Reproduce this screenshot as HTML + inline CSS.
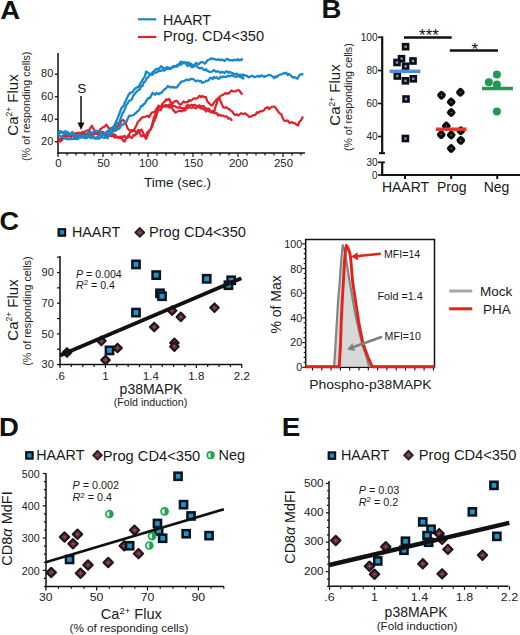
<!DOCTYPE html>
<html><head><meta charset="utf-8"><style>
html,body{margin:0;padding:0;background:#fff;}
body{width:520px;height:635px;overflow:hidden;}
svg{display:block;font-family:"Liberation Sans", sans-serif;}
</style></head><body>
<svg width="520" height="635" viewBox="0 0 520 635">
<rect width="520" height="635" fill="#fff"/>
<text x="0.2" y="18.9" font-size="25.3" text-anchor="start" font-weight="bold" font-style="normal" fill="#111"  textLength="19.91" lengthAdjust="spacingAndGlyphs">A</text>
<line x1="138.00" y1="19.30" x2="156.30" y2="19.30" stroke="#1a88c8" stroke-width="2.2" stroke-linecap="butt"/>
<line x1="138.00" y1="37.00" x2="156.30" y2="37.00" stroke="#e0222c" stroke-width="2.2" stroke-linecap="butt"/>
<text x="163" y="24.5" font-size="14.2" text-anchor="start" font-weight="normal" font-style="normal" fill="#1a1a1a" >HAART</text>
<text x="163" y="40.7" font-size="14.6" text-anchor="start" font-weight="normal" font-style="normal" fill="#1a1a1a" >Prog. CD4&lt;350</text>
<line x1="58.00" y1="53.00" x2="58.00" y2="153.50" stroke="#111" stroke-width="1.5" stroke-linecap="butt"/>
<line x1="57.30" y1="153.00" x2="305.00" y2="153.00" stroke="#111" stroke-width="1.5" stroke-linecap="butt"/>
<line x1="54.80" y1="74.25" x2="58.00" y2="74.25" stroke="#111" stroke-width="1.3" stroke-linecap="butt"/>
<text x="53.3" y="77.15" font-size="10" text-anchor="end" font-weight="normal" font-style="normal" fill="#222"  textLength="12.23" lengthAdjust="spacingAndGlyphs">80</text>
<line x1="54.80" y1="96.75" x2="58.00" y2="96.75" stroke="#111" stroke-width="1.3" stroke-linecap="butt"/>
<text x="53.3" y="99.65" font-size="10" text-anchor="end" font-weight="normal" font-style="normal" fill="#222"  textLength="12.23" lengthAdjust="spacingAndGlyphs">60</text>
<line x1="54.80" y1="119.25" x2="58.00" y2="119.25" stroke="#111" stroke-width="1.3" stroke-linecap="butt"/>
<text x="53.3" y="122.15" font-size="10" text-anchor="end" font-weight="normal" font-style="normal" fill="#222"  textLength="12.23" lengthAdjust="spacingAndGlyphs">40</text>
<line x1="54.80" y1="141.75" x2="58.00" y2="141.75" stroke="#111" stroke-width="1.3" stroke-linecap="butt"/>
<text x="53.3" y="144.65" font-size="10" text-anchor="end" font-weight="normal" font-style="normal" fill="#222"  textLength="12.23" lengthAdjust="spacingAndGlyphs">20</text>
<line x1="58.00" y1="153.00" x2="58.00" y2="157.00" stroke="#111" stroke-width="1.2" stroke-linecap="butt"/>
<line x1="67.00" y1="153.00" x2="67.00" y2="155.50" stroke="#111" stroke-width="1.2" stroke-linecap="butt"/>
<line x1="76.00" y1="153.00" x2="76.00" y2="155.50" stroke="#111" stroke-width="1.2" stroke-linecap="butt"/>
<line x1="85.00" y1="153.00" x2="85.00" y2="155.50" stroke="#111" stroke-width="1.2" stroke-linecap="butt"/>
<line x1="94.00" y1="153.00" x2="94.00" y2="155.50" stroke="#111" stroke-width="1.2" stroke-linecap="butt"/>
<line x1="103.00" y1="153.00" x2="103.00" y2="157.00" stroke="#111" stroke-width="1.2" stroke-linecap="butt"/>
<line x1="112.00" y1="153.00" x2="112.00" y2="155.50" stroke="#111" stroke-width="1.2" stroke-linecap="butt"/>
<line x1="121.00" y1="153.00" x2="121.00" y2="155.50" stroke="#111" stroke-width="1.2" stroke-linecap="butt"/>
<line x1="130.00" y1="153.00" x2="130.00" y2="155.50" stroke="#111" stroke-width="1.2" stroke-linecap="butt"/>
<line x1="139.00" y1="153.00" x2="139.00" y2="155.50" stroke="#111" stroke-width="1.2" stroke-linecap="butt"/>
<line x1="148.00" y1="153.00" x2="148.00" y2="157.00" stroke="#111" stroke-width="1.2" stroke-linecap="butt"/>
<line x1="157.00" y1="153.00" x2="157.00" y2="155.50" stroke="#111" stroke-width="1.2" stroke-linecap="butt"/>
<line x1="166.00" y1="153.00" x2="166.00" y2="155.50" stroke="#111" stroke-width="1.2" stroke-linecap="butt"/>
<line x1="175.00" y1="153.00" x2="175.00" y2="155.50" stroke="#111" stroke-width="1.2" stroke-linecap="butt"/>
<line x1="184.00" y1="153.00" x2="184.00" y2="155.50" stroke="#111" stroke-width="1.2" stroke-linecap="butt"/>
<line x1="193.00" y1="153.00" x2="193.00" y2="157.00" stroke="#111" stroke-width="1.2" stroke-linecap="butt"/>
<line x1="202.00" y1="153.00" x2="202.00" y2="155.50" stroke="#111" stroke-width="1.2" stroke-linecap="butt"/>
<line x1="211.00" y1="153.00" x2="211.00" y2="155.50" stroke="#111" stroke-width="1.2" stroke-linecap="butt"/>
<line x1="220.00" y1="153.00" x2="220.00" y2="155.50" stroke="#111" stroke-width="1.2" stroke-linecap="butt"/>
<line x1="229.00" y1="153.00" x2="229.00" y2="155.50" stroke="#111" stroke-width="1.2" stroke-linecap="butt"/>
<line x1="238.00" y1="153.00" x2="238.00" y2="157.00" stroke="#111" stroke-width="1.2" stroke-linecap="butt"/>
<line x1="247.00" y1="153.00" x2="247.00" y2="155.50" stroke="#111" stroke-width="1.2" stroke-linecap="butt"/>
<line x1="256.00" y1="153.00" x2="256.00" y2="155.50" stroke="#111" stroke-width="1.2" stroke-linecap="butt"/>
<line x1="265.00" y1="153.00" x2="265.00" y2="155.50" stroke="#111" stroke-width="1.2" stroke-linecap="butt"/>
<line x1="274.00" y1="153.00" x2="274.00" y2="155.50" stroke="#111" stroke-width="1.2" stroke-linecap="butt"/>
<line x1="283.00" y1="153.00" x2="283.00" y2="157.00" stroke="#111" stroke-width="1.2" stroke-linecap="butt"/>
<line x1="292.00" y1="153.00" x2="292.00" y2="155.50" stroke="#111" stroke-width="1.2" stroke-linecap="butt"/>
<line x1="301.00" y1="153.00" x2="301.00" y2="155.50" stroke="#111" stroke-width="1.2" stroke-linecap="butt"/>
<text x="58.5" y="167.3" font-size="10.2" text-anchor="middle" font-weight="normal" font-style="normal" fill="#222"  textLength="6.35" lengthAdjust="spacingAndGlyphs">0</text>
<text x="103.5" y="167.3" font-size="10.2" text-anchor="middle" font-weight="normal" font-style="normal" fill="#222"  textLength="12.71" lengthAdjust="spacingAndGlyphs">50</text>
<text x="148.5" y="167.3" font-size="10.2" text-anchor="middle" font-weight="normal" font-style="normal" fill="#222"  textLength="19.06" lengthAdjust="spacingAndGlyphs">100</text>
<text x="193.5" y="167.3" font-size="10.2" text-anchor="middle" font-weight="normal" font-style="normal" fill="#222"  textLength="19.06" lengthAdjust="spacingAndGlyphs">150</text>
<text x="238.5" y="167.3" font-size="10.2" text-anchor="middle" font-weight="normal" font-style="normal" fill="#222"  textLength="19.06" lengthAdjust="spacingAndGlyphs">200</text>
<text x="283.5" y="167.3" font-size="10.2" text-anchor="middle" font-weight="normal" font-style="normal" fill="#222"  textLength="19.06" lengthAdjust="spacingAndGlyphs">250</text>
<text x="144" y="186.8" font-size="13.5" text-anchor="start" font-weight="normal" font-style="normal" fill="#1a1a1a" >Time (sec.)</text>
<text transform="translate(17.8,105) rotate(-90)" font-size="15" text-anchor="middle" fill="#1a1a1a" font-weight="normal">Ca<tspan font-size="8.5" dy="-5.5">2+</tspan><tspan dy="5.5"> Flux</tspan></text>
<text transform="translate(29.6,106.3) rotate(-90)" font-size="10.75" text-anchor="middle" fill="#222" font-weight="normal">(% of responding cells)</text>
<text x="81.7" y="93.2" font-size="13.6" text-anchor="middle" font-weight="normal" font-style="normal" fill="#111" >S</text>
<line x1="81.00" y1="96.00" x2="81.00" y2="124.00" stroke="#111" stroke-width="1.5" stroke-linecap="butt"/>
<polygon points="77.5,122.5 84.5,122.5 81,130" fill="#111"/>
<polyline points="58.0,139.1 59.2,139.2 60.4,139.2 61.6,137.8 62.8,136.5 64.0,135.2 65.2,136.5 66.4,134.9 67.6,136.6 68.8,136.0 70.0,136.5 71.2,137.0 72.5,135.0 73.8,135.2 75.0,134.0 76.2,134.3 77.5,133.9 78.8,132.7 80.0,133.7 81.2,132.9 82.4,132.0 83.6,132.9 84.8,131.3 86.0,131.3 87.2,130.4 88.4,130.5 89.6,129.6 90.8,127.3 92.0,125.7 93.2,128.4 94.5,130.6 95.8,132.6 97.0,133.8 98.2,133.7 99.4,131.4 100.6,128.7 101.8,128.4 103.0,127.0 104.6,126.6 106.2,124.6 107.7,126.4 109.2,129.3 110.4,128.2 111.7,129.3 112.9,128.0 114.2,129.3 115.4,130.2 116.7,127.5 117.9,126.4 119.2,125.3 120.5,122.8 121.7,121.0 123.0,119.8 124.6,121.3 126.1,124.3 127.7,128.7 129.2,130.0 130.8,131.1 132.3,131.3 133.9,130.2 135.4,127.2 136.6,124.9 137.8,122.0 139.1,120.8 140.3,119.6 141.5,117.8 142.7,117.3 144.0,117.0 145.2,116.8 146.5,116.3 147.7,115.6 148.9,117.2 150.1,115.5 151.4,113.0 152.6,112.3 153.8,112.5 155.4,110.6 156.9,108.5 158.5,107.1 159.7,107.4 160.9,106.8 162.2,104.1 163.4,102.6 164.6,101.9 166.1,99.4 167.7,99.9 169.2,98.8 170.8,102.2 172.3,103.7 173.8,102.1 175.4,100.8 176.9,100.8 178.2,102.5 179.6,104.4 181.0,104.5 182.3,103.0 183.6,101.5 185.0,102.4 186.3,102.2 187.7,102.1 189.0,100.0 190.3,100.9 191.7,100.3 193.0,98.9 194.3,98.2 195.6,98.7 196.9,98.4 198.2,97.4 199.6,95.7 200.9,97.4 202.2,95.9 203.5,96.7 204.7,97.3 205.9,97.0 207.1,100.9 208.4,102.6 209.6,103.6 210.8,105.0 212.0,105.6 213.2,104.0 214.4,102.1 215.6,100.9 216.8,99.2 218.0,99.2 219.2,97.8 220.4,96.2 221.6,95.3 222.8,95.0 224.0,94.1 225.3,93.0 226.5,93.9 227.7,93.1 228.9,93.5 230.3,91.7 231.6,90.5 233.0,91.4 234.3,91.3 235.7,91.3 237.0,90.6 238.4,89.9 239.8,91.1 241.2,93.3 242.6,94.4" fill="none" stroke="#e0222c" stroke-width="2.2" stroke-linejoin="round"/>
<polyline points="58.0,142.0 59.3,141.5 60.7,141.3 62.0,140.0 63.3,138.2 64.7,136.2 66.0,135.4 67.3,136.6 68.6,135.0 69.9,134.6 71.1,136.2 72.4,134.5 73.7,133.2 75.0,134.5 76.2,132.9 77.5,133.2 78.8,132.7 80.0,133.4 81.2,134.4 82.5,133.1 83.8,134.4 85.0,134.3 86.2,135.4 87.5,133.4 88.8,133.2 90.0,132.3 91.2,133.7 92.5,134.0 93.8,133.8 95.0,133.9 96.2,132.4 97.5,134.1 98.8,134.0 100.0,135.0 101.2,134.4 102.5,134.0 103.8,134.3 105.0,135.9 106.2,134.5 107.4,135.1 108.7,134.1 109.9,133.5 111.1,133.9 112.3,135.2 113.8,136.7 115.4,137.7 116.9,136.7 118.5,137.9 120.0,136.5 121.5,138.5 123.1,140.5 124.6,141.6 125.8,138.7 127.1,137.8 128.3,135.1 129.6,133.6 130.8,130.9 132.0,130.0 133.2,130.8 134.5,130.8 135.7,131.9 136.9,134.1 138.4,132.1 140.0,131.0 141.5,129.4 143.1,132.7 144.6,136.6 146.2,138.9 147.7,134.8 149.3,130.7 150.8,128.5 152.3,123.6 153.8,117.9 155.4,113.8 156.9,108.9 158.5,105.6 159.7,106.4 160.9,107.0 162.2,107.3 163.4,105.4 164.6,105.8 165.8,106.8 167.1,105.7 168.3,106.9 169.6,107.7 170.8,106.2 172.0,108.0 173.2,110.1 174.5,111.4 175.7,112.6 176.9,111.9 178.2,111.1 179.6,110.8 181.0,111.0 182.3,111.4 183.6,109.6 185.0,110.5 186.3,109.0 187.7,107.8 189.0,107.4 190.3,105.0 191.7,104.8 193.0,105.4 194.3,104.7 195.6,105.2 196.9,106.1 198.2,105.8 199.6,105.2 200.9,106.4 202.2,106.4 203.5,105.8 204.8,107.7 206.1,108.2 207.4,108.9 208.8,108.7 210.1,110.4 211.4,112.7 212.7,110.6 214.0,112.7 215.4,107.1 216.9,102.9 218.3,97.7 219.6,98.8 220.8,101.8 222.1,104.7 223.3,107.2 224.6,107.8 225.8,107.4 227.0,107.6 228.2,108.7 229.4,109.1 230.6,110.7 231.8,110.8 233.0,112.6 234.3,114.7 235.7,115.0 237.0,114.2 238.3,115.6 239.7,114.5 241.0,113.2 242.3,113.6 243.7,114.0 245.0,113.3 246.3,114.1 247.7,115.4 249.0,116.9 250.3,116.6 251.6,116.5 252.9,115.2 254.1,115.1 255.4,114.9 256.7,112.4 258.0,112.9 259.2,112.0 260.4,111.2 261.6,111.4 262.9,110.9 264.1,110.2 265.3,108.2 266.5,108.0 267.7,107.0 269.1,109.3 270.4,107.8 271.8,106.8 273.1,106.7 274.4,106.5 275.8,108.0 277.2,110.2 278.5,112.0 279.9,113.5 281.3,114.4 282.6,117.9 284.0,120.4 285.3,121.1 286.7,120.4 288.0,120.7 289.3,122.8 290.7,122.6 292.0,122.0 293.2,123.2 294.4,122.9 295.6,123.9 296.8,125.0 298.0,125.5 299.5,121.6 301.0,120.3 303.0,116.5" fill="none" stroke="#e0222c" stroke-width="2.2" stroke-linejoin="round"/>
<polyline points="58.0,140.4 59.2,139.9 60.5,138.6 61.8,137.0 63.0,136.3 64.2,135.9 65.5,134.5 66.8,135.4 68.0,133.2 69.2,134.7 70.5,134.4 71.8,135.0 73.0,135.3 74.2,137.3 75.5,138.0 76.8,136.6 78.0,138.6 79.2,136.3 80.5,136.6 81.8,135.5 83.0,136.4 84.2,134.0 85.5,133.9 86.8,134.0 88.0,135.1 89.2,134.0 90.5,135.0 91.8,135.0 93.0,134.2 94.2,133.6 95.5,132.6 96.8,132.2 98.0,133.5 99.3,132.2 100.7,133.0 102.0,131.7 103.3,132.0 104.7,134.9 106.0,136.1 107.3,136.3 108.6,135.9 109.9,135.5 111.1,136.2 112.4,135.7 113.7,134.4 115.0,134.8 116.4,136.3 117.8,137.6 119.2,137.6 120.6,137.9 122.0,136.5 123.3,137.0 124.5,135.7 125.8,136.9 127.0,137.5 128.3,137.3 129.5,135.9 130.8,137.6 132.1,137.8 133.4,135.1 134.7,135.6 135.9,133.5 137.2,131.4 138.5,129.8 140.0,133.7 141.5,136.4 143.1,135.3 144.6,136.5 146.2,134.3 147.4,132.4 148.6,131.3 149.9,130.5 151.1,128.9 152.3,126.1 153.5,122.4 154.8,119.9 156.0,116.8 157.3,112.6 158.5,109.6 159.7,109.4 160.9,110.1 162.2,107.3 163.4,106.1 164.6,106.2 165.8,104.9 167.1,105.3 168.3,105.7 169.6,104.3 170.8,104.6 172.0,105.2 173.2,106.1 174.5,105.9 175.7,106.7 176.9,107.5 178.2,107.9 179.6,106.9 181.0,108.1 182.3,108.1 183.6,108.2 185.0,108.7 186.3,106.0 187.7,104.9 189.0,107.0 190.3,107.5 191.7,107.9 193.0,106.8 194.3,107.5 195.6,108.3 196.9,107.4 198.2,106.8 199.6,107.6 200.9,108.5 202.2,108.1 203.5,109.5 204.8,109.6 206.1,111.5 207.4,110.0 208.8,111.1 210.1,111.6 211.4,112.0 212.7,112.0 214.0,113.1 215.3,112.9 216.7,113.1 218.0,115.6 219.3,114.5 220.6,115.6 221.9,115.4 223.3,115.8 224.6,116.4 225.8,116.3 227.1,116.5 228.3,118.7 229.5,118.2 230.8,119.0 232.0,120.9" fill="none" stroke="#e0222c" stroke-width="2.2" stroke-linejoin="round"/>
<polyline points="58.0,132.2 59.6,131.1 61.2,131.3 62.8,133.4 64.4,131.4 66.0,131.4 67.6,132.9 69.2,135.2 70.8,133.7 72.4,131.9 74.0,134.1 75.6,136.4 77.2,136.4 78.8,134.1 80.4,136.3 82.0,135.7 83.6,137.7 85.2,138.0 86.8,138.0 88.4,136.3 90.0,137.7 91.6,136.3 93.2,135.9 94.8,137.6 96.4,138.0 98.0,136.4 99.6,135.0 101.2,134.5 102.8,134.6 104.4,134.0 106.0,132.1 107.6,130.9 108.5,133.8 109.8,130.1 111.2,128.5 112.5,127.5 113.9,126.1 115.2,123.9 116.5,120.7 117.9,117.6 119.2,114.2 120.6,110.3 121.9,107.3 123.2,106.6 124.6,103.2 125.9,100.6 127.3,97.6 128.6,94.6 130.0,93.1 131.3,92.3 132.7,92.3 134.0,89.6 135.4,88.3 136.7,87.5 138.1,87.4 139.4,85.5 140.8,82.6 142.1,80.9 143.4,78.2 144.8,76.8 146.1,71.6 147.4,72.3 148.8,73.5 150.2,73.8 151.5,74.3 152.9,71.7 154.2,71.1 155.6,69.1 156.9,69.0 158.3,69.4 159.7,67.9 161.0,66.3 162.3,67.0 163.7,68.4 165.0,68.7 166.3,67.4 167.7,67.2 169.0,67.7 170.4,68.9 171.7,68.0 173.0,66.3 174.3,66.1 175.7,66.4 177.0,66.6 178.3,65.4 179.7,63.2 181.0,61.6 182.3,62.2 183.6,63.4 185.0,62.1 186.3,63.1 187.7,62.7 189.0,62.7 190.3,63.4 191.7,64.3 193.0,65.8 194.3,65.1 195.6,63.4 196.9,63.1 198.2,64.6 199.6,63.3 200.9,62.2 202.2,62.2 203.5,62.6 204.8,63.7 206.1,62.4 207.4,60.4 208.8,59.8 210.1,59.3 211.4,58.1 212.7,59.2 214.0,58.7 215.3,59.3 216.7,59.8 218.0,59.5 219.3,59.3 220.6,60.4 221.9,59.5 223.3,60.3 224.6,61.1 225.8,59.6 227.0,58.8 228.2,59.5 229.4,60.4 230.6,60.1 231.8,60.1 233.0,60.7 234.2,59.7 235.4,60.2 236.6,60.3 237.8,59.1 239.0,60.4 240.2,59.7 241.4,60.1 242.6,58.5" fill="none" stroke="#1a88c8" stroke-width="2.3" stroke-linejoin="round"/>
<polyline points="58.0,133.7 59.6,135.7 61.2,136.4 62.8,137.4 64.4,138.2 66.0,139.0 67.6,138.8 69.2,139.0 70.8,139.0 72.4,139.0 74.0,138.7 75.6,139.0 77.2,139.0 78.8,138.0 80.4,136.6 82.0,137.2 83.6,135.1 85.2,137.2 86.8,135.4 88.4,133.0 90.0,131.0 91.6,133.2 93.2,132.4 94.8,131.0 96.4,131.0 98.0,131.0 99.6,132.0 101.2,132.6 102.8,133.6 104.4,134.8 106.0,132.6 107.6,133.1 109.2,132.4 110.8,134.0 111.5,134.8 112.9,131.2 114.3,130.6 115.7,126.2 117.1,123.1 118.5,123.5 119.8,121.0 121.1,117.7 122.4,113.4 123.7,111.7 125.0,108.6 126.4,104.9 127.8,103.3 129.2,100.7 130.6,100.3 132.0,98.9 133.3,95.4 134.6,94.4 135.9,92.6 137.2,90.8 138.5,90.2 139.8,89.3 141.1,85.9 142.4,86.2 143.7,82.5 145.0,81.7 146.5,78.8 148.0,77.3 149.5,75.3 150.8,73.8 152.2,74.7 153.5,73.5 154.8,72.3 156.0,72.8 157.2,72.1 158.5,71.1 159.8,71.1 161.0,70.9 162.3,69.6 163.7,70.6 165.0,70.1 166.3,68.5 167.7,68.9 169.0,69.2 170.4,68.0 171.7,67.5 173.0,67.6 174.3,65.9 175.7,66.6 177.0,64.9 178.3,65.4 179.7,64.0 181.0,64.9 182.3,62.5 183.6,62.7 184.8,63.3 186.1,63.5 187.4,66.1 188.7,65.4 189.9,64.1 191.2,66.8 192.5,67.1 193.7,66.6 195.0,65.4 196.2,65.7 197.4,67.1 198.6,67.8 199.9,68.4 201.1,67.8 202.3,68.3 203.5,69.6 204.8,70.2 206.1,69.3 207.4,70.9 208.8,71.4 210.1,72.1 211.4,71.8 212.7,71.2 214.0,70.0 215.3,71.6 216.7,71.4 218.0,71.5 219.3,71.8 220.6,73.0 221.9,71.7 223.3,72.4 224.6,73.1 225.9,71.3 227.2,71.3 228.6,72.9 229.9,72.0 231.2,72.7 232.5,73.0 233.9,73.9 235.2,74.1 236.6,73.7 238.1,74.6 239.6,75.0 241.0,74.7 242.2,75.2 243.4,74.5 244.6,75.6 245.8,75.3 247.0,75.8 248.4,77.3 249.9,76.8 251.3,76.0 252.8,76.0 254.2,77.2 255.5,76.8 256.7,76.4 258.0,75.7 259.2,76.9 260.5,75.8 261.7,75.4 263.0,76.3 264.2,76.9 265.5,76.1 266.8,75.8 268.0,75.3 269.2,74.8 270.5,75.3 271.8,76.0 273.0,76.7 274.3,78.1 275.7,76.2 277.0,77.1 278.3,75.6 279.7,74.8 281.0,74.3 282.3,74.2 283.7,73.0 285.0,73.5 286.3,72.8 287.7,75.0 289.0,74.0 290.4,75.1 291.8,76.4 293.1,77.7 294.5,77.0 295.9,77.9 297.3,78.6 298.6,76.7 300.0,74.5 301.8,74.1 303.5,74.5" fill="none" stroke="#1a88c8" stroke-width="2.3" stroke-linejoin="round"/>
<polyline points="58.0,134.3 59.6,132.6 61.2,132.5 62.8,132.5 64.4,132.7 66.0,134.5 67.6,132.1 69.2,133.8 70.8,133.6 72.4,133.9 74.0,134.7 75.6,136.4 77.2,135.8 78.8,135.4 80.4,137.7 82.0,135.6 83.6,136.3 85.2,137.0 86.8,134.6 88.4,135.1 90.0,136.1 91.6,138.2 93.2,137.4 94.8,138.5 96.4,138.5 98.0,138.4 99.6,138.5 101.2,136.2 102.8,137.3 104.4,137.9 106.0,137.1 107.6,138.5 109.0,133.6 110.4,133.4 111.7,131.4 113.1,130.8 114.4,130.7 115.8,130.7 117.1,129.2 118.5,129.0 119.8,128.0 121.1,125.7 122.3,124.6 123.6,124.4 124.9,122.1 126.2,122.4 127.7,118.7 129.3,115.6 130.8,115.9 132.1,115.5 133.4,115.2 134.7,113.9 135.9,113.0 137.2,111.4 138.5,110.7 139.8,108.9 141.1,105.9 142.3,106.2 143.6,104.1 144.9,103.6 146.2,101.0 147.5,99.3 148.7,97.8 150.0,98.0 151.3,95.3 152.5,92.9 153.8,94.0 155.1,94.8 156.4,92.8 157.7,93.8 158.9,94.3 160.2,92.9 161.5,93.0 162.8,90.8 164.1,89.8 165.3,89.0 166.6,87.8 167.9,85.9 169.2,86.9 170.5,87.5 171.8,86.8 173.1,87.6 174.3,87.0 175.6,87.7 176.9,87.4 178.2,85.4 179.6,83.8 181.0,82.0 182.3,81.3 183.6,81.3 185.0,80.5 186.3,79.6 187.7,80.0 189.0,80.0 190.3,79.2 191.7,78.9 193.0,79.2 194.3,79.7 195.6,81.4 196.9,80.8 198.2,80.5 199.6,81.4 200.9,80.9 202.2,82.9 203.5,82.3 204.8,82.0 206.1,80.8 207.4,80.8 208.8,80.2 210.1,78.0 211.4,78.0 212.7,79.0 214.0,77.0 215.3,78.1 216.7,77.3 218.0,78.6 219.3,78.6 220.6,76.6 221.9,77.4 223.3,76.3 224.6,76.8 225.9,77.2 227.2,76.1 228.6,75.9 229.9,76.4 231.2,75.4 232.5,75.5 233.9,76.4 235.2,76.6 236.4,76.8 237.6,75.8 238.8,76.4 240.1,76.9 241.3,77.6 242.5,77.0 243.7,79.6" fill="none" stroke="#1a88c8" stroke-width="2.3" stroke-linejoin="round"/>
<text x="321.6" y="17.8" font-size="25.3" text-anchor="start" font-weight="bold" font-style="normal" fill="#111"  textLength="19.91" lengthAdjust="spacingAndGlyphs">B</text>
<line x1="382.20" y1="36.30" x2="382.20" y2="153.20" stroke="#111" stroke-width="2.2" stroke-linecap="butt"/>
<line x1="382.20" y1="162.30" x2="382.20" y2="175.50" stroke="#111" stroke-width="2.2" stroke-linecap="butt"/>
<line x1="381.00" y1="175.00" x2="520.00" y2="175.00" stroke="#111" stroke-width="2" stroke-linecap="butt"/>
<line x1="379.00" y1="153.20" x2="385.00" y2="153.20" stroke="#111" stroke-width="2" stroke-linecap="butt"/>
<line x1="382.00" y1="162.30" x2="384.80" y2="162.30" stroke="#111" stroke-width="2" stroke-linecap="butt"/>
<line x1="378.00" y1="37.30" x2="382.00" y2="37.30" stroke="#111" stroke-width="1.6" stroke-linecap="butt"/>
<text x="377.5" y="40.9" font-size="10" text-anchor="end" font-weight="normal" font-style="normal" fill="#222" >100</text>
<line x1="378.00" y1="70.50" x2="382.00" y2="70.50" stroke="#111" stroke-width="1.6" stroke-linecap="butt"/>
<text x="377.5" y="74.1" font-size="10" text-anchor="end" font-weight="normal" font-style="normal" fill="#222" >80</text>
<line x1="378.00" y1="103.50" x2="382.00" y2="103.50" stroke="#111" stroke-width="1.6" stroke-linecap="butt"/>
<text x="377.5" y="107.1" font-size="10" text-anchor="end" font-weight="normal" font-style="normal" fill="#222" >60</text>
<line x1="378.00" y1="136.50" x2="382.00" y2="136.50" stroke="#111" stroke-width="1.6" stroke-linecap="butt"/>
<text x="377.5" y="140.1" font-size="10" text-anchor="end" font-weight="normal" font-style="normal" fill="#222" >40</text>
<line x1="378.00" y1="162.30" x2="382.00" y2="162.30" stroke="#111" stroke-width="1.6" stroke-linecap="butt"/>
<text x="377.5" y="165.9" font-size="10" text-anchor="end" font-weight="normal" font-style="normal" fill="#222" >30</text>
<line x1="378.00" y1="175.00" x2="382.00" y2="175.00" stroke="#111" stroke-width="1.6" stroke-linecap="butt"/>
<text x="377.5" y="178.6" font-size="10" text-anchor="end" font-weight="normal" font-style="normal" fill="#222" >0</text>
<line x1="405.00" y1="175.00" x2="405.00" y2="179.00" stroke="#111" stroke-width="2" stroke-linecap="butt"/>
<line x1="451.20" y1="175.00" x2="451.20" y2="179.00" stroke="#111" stroke-width="2" stroke-linecap="butt"/>
<line x1="497.20" y1="175.00" x2="497.20" y2="179.00" stroke="#111" stroke-width="2" stroke-linecap="butt"/>
<text x="405.5" y="192" font-size="14" text-anchor="middle" font-weight="normal" font-style="normal" fill="#1a1a1a" >HAART</text>
<text x="451.8" y="192" font-size="14" text-anchor="middle" font-weight="normal" font-style="normal" fill="#1a1a1a" >Prog</text>
<text x="496.5" y="192" font-size="14" text-anchor="middle" font-weight="normal" font-style="normal" fill="#1a1a1a" >Neg</text>
<text transform="translate(340,95) rotate(-90)" font-size="15" text-anchor="middle" fill="#1a1a1a" font-weight="normal">Ca<tspan font-size="8.5" dy="-5.5">2+</tspan><tspan dy="5.5"> Flux</tspan></text>
<text transform="translate(352.2,97.2) rotate(-90)" font-size="10.6" text-anchor="middle" fill="#222" font-weight="normal">(% of responding cells)</text>
<line x1="404.00" y1="37.50" x2="451.70" y2="37.50" stroke="#111" stroke-width="2.5" stroke-linecap="butt"/>
<text x="429" y="40.5" font-size="17" text-anchor="middle" font-weight="normal" font-style="normal" fill="#111" >***</text>
<line x1="449.80" y1="50.40" x2="498.00" y2="50.40" stroke="#111" stroke-width="2.5" stroke-linecap="butt"/>
<text x="474.8" y="55" font-size="17" text-anchor="middle" font-weight="normal" font-style="normal" fill="#111" >*</text>
<rect x="401.8" y="42.9" width="7.6" height="7.6" fill="#0b0d14"/>
<rect x="404.4" y="45.5" width="2.4" height="2.4" fill="#7f9cc6"/>
<rect x="397.7" y="54.9" width="7.6" height="7.6" fill="#0b0d14"/>
<rect x="400.3" y="57.5" width="2.4" height="2.4" fill="#7f9cc6"/>
<rect x="393.2" y="58.7" width="7.6" height="7.6" fill="#0b0d14"/>
<rect x="395.8" y="61.3" width="2.4" height="2.4" fill="#7f9cc6"/>
<rect x="409.2" y="57.2" width="7.6" height="7.6" fill="#0b0d14"/>
<rect x="411.8" y="59.8" width="2.4" height="2.4" fill="#7f9cc6"/>
<rect x="401.8" y="62.5" width="7.6" height="7.6" fill="#0b0d14"/>
<rect x="404.4" y="65.1" width="2.4" height="2.4" fill="#7f9cc6"/>
<rect x="393.5" y="72.2" width="7.6" height="7.6" fill="#0b0d14"/>
<rect x="396.1" y="74.8" width="2.4" height="2.4" fill="#7f9cc6"/>
<rect x="401.6" y="77.0" width="7.6" height="7.6" fill="#0b0d14"/>
<rect x="404.2" y="79.6" width="2.4" height="2.4" fill="#7f9cc6"/>
<rect x="409.5" y="75.0" width="7.6" height="7.6" fill="#0b0d14"/>
<rect x="412.1" y="77.6" width="2.4" height="2.4" fill="#7f9cc6"/>
<rect x="402.2" y="95.2" width="7.6" height="7.6" fill="#0b0d14"/>
<rect x="404.8" y="97.8" width="2.4" height="2.4" fill="#7f9cc6"/>
<rect x="401.6" y="134.7" width="7.6" height="7.6" fill="#0b0d14"/>
<rect x="404.2" y="137.3" width="2.4" height="2.4" fill="#7f9cc6"/>
<line x1="389.60" y1="71.30" x2="420.40" y2="71.30" stroke="#4a90d9" stroke-width="3.5" stroke-linecap="butt"/>
<rect x="437.7" y="91.4" width="7.6" height="7.6" rx="2.6" fill="#0b0808" transform="rotate(45 441.5 95.2)"/>
<circle cx="441.5" cy="95.2" r="0.8" fill="#9a6a6a"/>
<rect x="456.6" y="88.5" width="7.6" height="7.6" rx="2.6" fill="#0b0808" transform="rotate(45 460.4 92.3)"/>
<circle cx="460.4" cy="92.3" r="0.8" fill="#9a6a6a"/>
<rect x="447.4" y="98.2" width="7.6" height="7.6" rx="2.6" fill="#0b0808" transform="rotate(45 451.2 102)"/>
<circle cx="451.2" cy="102" r="0.8" fill="#9a6a6a"/>
<rect x="447.4" y="108.7" width="7.6" height="7.6" rx="2.6" fill="#0b0808" transform="rotate(45 451.2 112.5)"/>
<circle cx="451.2" cy="112.5" r="0.8" fill="#9a6a6a"/>
<rect x="442.5" y="122.2" width="7.6" height="7.6" rx="2.6" fill="#0b0808" transform="rotate(45 446.3 126)"/>
<circle cx="446.3" cy="126" r="0.8" fill="#9a6a6a"/>
<rect x="457.0" y="127.0" width="7.6" height="7.6" rx="2.6" fill="#0b0808" transform="rotate(45 460.8 130.8)"/>
<circle cx="460.8" cy="130.8" r="0.8" fill="#9a6a6a"/>
<rect x="437.4" y="130.8" width="7.6" height="7.6" rx="2.6" fill="#0b0808" transform="rotate(45 441.2 134.6)"/>
<circle cx="441.2" cy="134.6" r="0.8" fill="#9a6a6a"/>
<rect x="447.4" y="131.2" width="7.6" height="7.6" rx="2.6" fill="#0b0808" transform="rotate(45 451.2 135)"/>
<circle cx="451.2" cy="135" r="0.8" fill="#9a6a6a"/>
<rect x="457.0" y="136.6" width="7.6" height="7.6" rx="2.6" fill="#0b0808" transform="rotate(45 460.8 140.4)"/>
<circle cx="460.8" cy="140.4" r="0.8" fill="#9a6a6a"/>
<rect x="447.4" y="144.7" width="7.6" height="7.6" rx="2.6" fill="#0b0808" transform="rotate(45 451.2 148.5)"/>
<circle cx="451.2" cy="148.5" r="0.8" fill="#9a6a6a"/>
<line x1="435.80" y1="129.20" x2="466.50" y2="129.20" stroke="#e8342c" stroke-width="3.5" stroke-linecap="butt"/>
<circle cx="496.9" cy="74.6" r="4" fill="#1e9a52"/>
<circle cx="488.8" cy="82.3" r="4" fill="#1e9a52"/>
<circle cx="496.9" cy="84.6" r="4" fill="#1e9a52"/>
<circle cx="496.9" cy="111.5" r="4" fill="#1e9a52"/>
<line x1="482.00" y1="88.50" x2="512.90" y2="88.50" stroke="#1e9a52" stroke-width="3.5" stroke-linecap="butt"/>
<text x="-0.6" y="230.2" font-size="25.3" text-anchor="start" font-weight="bold" font-style="normal" fill="#111"  textLength="19.55" lengthAdjust="spacingAndGlyphs">C</text>
<rect x="57.5" y="228.1" width="8.7" height="8.7" fill="#111"/>
<rect x="59.8" y="230.3" width="4.2" height="4.2" fill="#1b8ccf"/>
<text x="72" y="237" font-size="14.3" text-anchor="start" font-weight="normal" font-style="normal" fill="#1a1a1a" >HAART</text>
<polygon points="139.8,227.70000000000002 144.5,232.4 139.8,237.1 135.10000000000002,232.4" fill="#6b3242" stroke="#1a1a1a" stroke-width="1.4" stroke-linejoin="round"/>
<circle cx="139.8" cy="232.4" r="1" fill="#a8506e"/>
<text x="149" y="237.3" font-size="14.6" text-anchor="start" font-weight="normal" font-style="normal" fill="#1a1a1a" >Prog CD4&lt;350</text>
<line x1="60.00" y1="256.00" x2="60.00" y2="365.30" stroke="#111" stroke-width="1.5" stroke-linecap="butt"/>
<line x1="59.30" y1="364.60" x2="242.00" y2="364.60" stroke="#111" stroke-width="1.5" stroke-linecap="butt"/>
<line x1="57.00" y1="257.15" x2="60.00" y2="257.15" stroke="#111" stroke-width="1.2" stroke-linecap="butt"/>
<line x1="57.00" y1="272.50" x2="60.00" y2="272.50" stroke="#111" stroke-width="1.2" stroke-linecap="butt"/>
<text x="53.8" y="276.1" font-size="10" text-anchor="end" font-weight="normal" font-style="normal" fill="#222"  textLength="12.23" lengthAdjust="spacingAndGlyphs">90</text>
<line x1="57.00" y1="287.85" x2="60.00" y2="287.85" stroke="#111" stroke-width="1.2" stroke-linecap="butt"/>
<line x1="57.00" y1="303.20" x2="60.00" y2="303.20" stroke="#111" stroke-width="1.2" stroke-linecap="butt"/>
<text x="53.8" y="306.80000000000007" font-size="10" text-anchor="end" font-weight="normal" font-style="normal" fill="#222"  textLength="12.23" lengthAdjust="spacingAndGlyphs">70</text>
<line x1="57.00" y1="318.55" x2="60.00" y2="318.55" stroke="#111" stroke-width="1.2" stroke-linecap="butt"/>
<line x1="57.00" y1="333.90" x2="60.00" y2="333.90" stroke="#111" stroke-width="1.2" stroke-linecap="butt"/>
<text x="53.8" y="337.50000000000006" font-size="10" text-anchor="end" font-weight="normal" font-style="normal" fill="#222"  textLength="12.23" lengthAdjust="spacingAndGlyphs">50</text>
<line x1="57.00" y1="349.25" x2="60.00" y2="349.25" stroke="#111" stroke-width="1.2" stroke-linecap="butt"/>
<line x1="57.00" y1="364.60" x2="60.00" y2="364.60" stroke="#111" stroke-width="1.2" stroke-linecap="butt"/>
<text x="53.8" y="368.20000000000005" font-size="10" text-anchor="end" font-weight="normal" font-style="normal" fill="#222"  textLength="12.23" lengthAdjust="spacingAndGlyphs">30</text>
<line x1="60.00" y1="364.60" x2="60.00" y2="368.10" stroke="#111" stroke-width="1.2" stroke-linecap="butt"/>
<line x1="71.36" y1="364.60" x2="71.36" y2="367.10" stroke="#111" stroke-width="1.2" stroke-linecap="butt"/>
<line x1="82.72" y1="364.60" x2="82.72" y2="367.10" stroke="#111" stroke-width="1.2" stroke-linecap="butt"/>
<line x1="94.08" y1="364.60" x2="94.08" y2="367.10" stroke="#111" stroke-width="1.2" stroke-linecap="butt"/>
<line x1="105.44" y1="364.60" x2="105.44" y2="368.10" stroke="#111" stroke-width="1.2" stroke-linecap="butt"/>
<line x1="116.80" y1="364.60" x2="116.80" y2="367.10" stroke="#111" stroke-width="1.2" stroke-linecap="butt"/>
<line x1="128.16" y1="364.60" x2="128.16" y2="367.10" stroke="#111" stroke-width="1.2" stroke-linecap="butt"/>
<line x1="139.52" y1="364.60" x2="139.52" y2="367.10" stroke="#111" stroke-width="1.2" stroke-linecap="butt"/>
<line x1="150.88" y1="364.60" x2="150.88" y2="368.10" stroke="#111" stroke-width="1.2" stroke-linecap="butt"/>
<line x1="162.24" y1="364.60" x2="162.24" y2="367.10" stroke="#111" stroke-width="1.2" stroke-linecap="butt"/>
<line x1="173.60" y1="364.60" x2="173.60" y2="367.10" stroke="#111" stroke-width="1.2" stroke-linecap="butt"/>
<line x1="184.96" y1="364.60" x2="184.96" y2="367.10" stroke="#111" stroke-width="1.2" stroke-linecap="butt"/>
<line x1="196.32" y1="364.60" x2="196.32" y2="368.10" stroke="#111" stroke-width="1.2" stroke-linecap="butt"/>
<line x1="207.68" y1="364.60" x2="207.68" y2="367.10" stroke="#111" stroke-width="1.2" stroke-linecap="butt"/>
<line x1="219.04" y1="364.60" x2="219.04" y2="367.10" stroke="#111" stroke-width="1.2" stroke-linecap="butt"/>
<line x1="230.40" y1="364.60" x2="230.40" y2="367.10" stroke="#111" stroke-width="1.2" stroke-linecap="butt"/>
<line x1="241.76" y1="364.60" x2="241.76" y2="368.10" stroke="#111" stroke-width="1.2" stroke-linecap="butt"/>
<text x="60" y="379.6" font-size="10.3" text-anchor="middle" font-weight="normal" font-style="normal" fill="#222"  textLength="9.62" lengthAdjust="spacingAndGlyphs">.6</text>
<text x="105.4" y="379.6" font-size="10.3" text-anchor="middle" font-weight="normal" font-style="normal" fill="#222"  textLength="6.42" lengthAdjust="spacingAndGlyphs">1</text>
<text x="150.9" y="379.6" font-size="10.3" text-anchor="middle" font-weight="normal" font-style="normal" fill="#222"  textLength="16.04" lengthAdjust="spacingAndGlyphs">1.4</text>
<text x="196.4" y="379.6" font-size="10.3" text-anchor="middle" font-weight="normal" font-style="normal" fill="#222"  textLength="16.04" lengthAdjust="spacingAndGlyphs">1.8</text>
<text x="241.8" y="379.6" font-size="10.3" text-anchor="middle" font-weight="normal" font-style="normal" fill="#222"  textLength="16.04" lengthAdjust="spacingAndGlyphs">2.2</text>
<text x="119.6" y="394" font-size="14" text-anchor="start" font-weight="normal" font-style="normal" fill="#1a1a1a" >p38MAPK</text>
<text x="150.5" y="405.8" font-size="10.7" text-anchor="middle" font-weight="normal" font-style="normal" fill="#222" >(Fold induction)</text>
<text x="76" y="277.5" font-size="10.6" text-anchor="start" font-weight="normal" font-style="normal" fill="#1a1a1a" ><tspan font-style="italic">P</tspan> = 0.004</text>
<text x="76" y="288.7" font-size="10.6" text-anchor="start" font-weight="normal" font-style="normal" fill="#1a1a1a" ><tspan font-style="italic">R</tspan><tspan font-size="8" dy="-3.5">2</tspan><tspan dy="3.5"> = 0.4</tspan></text>
<text transform="translate(17.8,310) rotate(-90)" font-size="15" text-anchor="middle" fill="#1a1a1a" font-weight="normal">Ca<tspan font-size="8.5" dy="-5.5">2+</tspan><tspan dy="5.5"> Flux</tspan></text>
<text transform="translate(31.3,311.2) rotate(-90)" font-size="10.75" text-anchor="middle" fill="#222" font-weight="normal">(% of responding cells)</text>
<polygon points="67,348.1 71.4,352.5 67,356.9 62.6,352.5" fill="#62303f" stroke="#1e1216" stroke-width="1.9" stroke-linejoin="round"/>
<circle cx="67" cy="352.5" r="1" fill="#a8506e"/>
<polygon points="101.4,336.5 105.80000000000001,340.9 101.4,345.29999999999995 97.0,340.9" fill="#62303f" stroke="#1e1216" stroke-width="1.9" stroke-linejoin="round"/>
<circle cx="101.4" cy="340.9" r="1" fill="#a8506e"/>
<polygon points="117.5,343.6 121.9,348 117.5,352.4 113.1,348" fill="#62303f" stroke="#1e1216" stroke-width="1.9" stroke-linejoin="round"/>
<circle cx="117.5" cy="348" r="1" fill="#a8506e"/>
<polygon points="105.5,355.6 109.9,360 105.5,364.4 101.1,360" fill="#62303f" stroke="#1e1216" stroke-width="1.9" stroke-linejoin="round"/>
<circle cx="105.5" cy="360" r="1" fill="#a8506e"/>
<polygon points="172.1,306.20000000000005 176.5,310.6 172.1,315.0 167.7,310.6" fill="#62303f" stroke="#1e1216" stroke-width="1.9" stroke-linejoin="round"/>
<circle cx="172.1" cy="310.6" r="1" fill="#a8506e"/>
<polygon points="180.8,312.5 185.20000000000002,316.9 180.8,321.29999999999995 176.4,316.9" fill="#62303f" stroke="#1e1216" stroke-width="1.9" stroke-linejoin="round"/>
<circle cx="180.8" cy="316.9" r="1" fill="#a8506e"/>
<polygon points="214.5,303.3 218.9,307.7 214.5,312.09999999999997 210.1,307.7" fill="#62303f" stroke="#1e1216" stroke-width="1.9" stroke-linejoin="round"/>
<circle cx="214.5" cy="307.7" r="1" fill="#a8506e"/>
<polygon points="154.2,322.6 158.6,327 154.2,331.4 149.79999999999998,327" fill="#62303f" stroke="#1e1216" stroke-width="1.9" stroke-linejoin="round"/>
<circle cx="154.2" cy="327" r="1" fill="#a8506e"/>
<polygon points="174.4,338.5 178.8,342.9 174.4,347.29999999999995 170.0,342.9" fill="#62303f" stroke="#1e1216" stroke-width="1.9" stroke-linejoin="round"/>
<circle cx="174.4" cy="342.9" r="1" fill="#a8506e"/>
<polygon points="174.4,342.20000000000005 178.8,346.6 174.4,351.0 170.0,346.6" fill="#62303f" stroke="#1e1216" stroke-width="1.9" stroke-linejoin="round"/>
<circle cx="174.4" cy="346.6" r="1" fill="#a8506e"/>
<rect x="131.1" y="259.5" width="9.8" height="9.8" fill="#0a1420"/>
<rect x="133.6" y="262.0" width="4.8" height="4.8" fill="#2593c6"/>
<rect x="151.3" y="270.2" width="9.8" height="9.8" fill="#0a1420"/>
<rect x="153.8" y="272.7" width="4.8" height="4.8" fill="#2593c6"/>
<rect x="201.8" y="273.9" width="9.8" height="9.8" fill="#0a1420"/>
<rect x="204.3" y="276.4" width="4.8" height="4.8" fill="#2593c6"/>
<rect x="226.3" y="275.4" width="9.8" height="9.8" fill="#0a1420"/>
<rect x="228.8" y="277.9" width="4.8" height="4.8" fill="#2593c6"/>
<rect x="223.5" y="280.3" width="9.8" height="9.8" fill="#0a1420"/>
<rect x="226.0" y="282.8" width="4.8" height="4.8" fill="#2593c6"/>
<rect x="155.1" y="288.4" width="9.8" height="9.8" fill="#0a1420"/>
<rect x="157.6" y="290.9" width="4.8" height="4.8" fill="#2593c6"/>
<rect x="157.1" y="291.3" width="9.8" height="9.8" fill="#0a1420"/>
<rect x="159.6" y="293.8" width="4.8" height="4.8" fill="#2593c6"/>
<rect x="131.1" y="307.7" width="9.8" height="9.8" fill="#0a1420"/>
<rect x="133.6" y="310.2" width="4.8" height="4.8" fill="#2593c6"/>
<rect x="104.6" y="345.5" width="9.8" height="9.8" fill="#0a1420"/>
<rect x="107.1" y="348.0" width="4.8" height="4.8" fill="#2593c6"/>
<line x1="60.00" y1="355.50" x2="241.30" y2="278.30" stroke="#111" stroke-width="3.8" stroke-linecap="butt"/>
<rect x="305.7" y="239.5" width="128.8" height="127.8" fill="none" stroke="#111" stroke-width="1.5"/>
<line x1="302.20" y1="367.30" x2="305.70" y2="367.30" stroke="#111" stroke-width="1.1" stroke-linecap="butt"/>
<line x1="303.70" y1="362.36" x2="305.70" y2="362.36" stroke="#111" stroke-width="1.1" stroke-linecap="butt"/>
<line x1="303.70" y1="357.42" x2="305.70" y2="357.42" stroke="#111" stroke-width="1.1" stroke-linecap="butt"/>
<line x1="303.70" y1="352.48" x2="305.70" y2="352.48" stroke="#111" stroke-width="1.1" stroke-linecap="butt"/>
<line x1="303.70" y1="347.54" x2="305.70" y2="347.54" stroke="#111" stroke-width="1.1" stroke-linecap="butt"/>
<line x1="302.20" y1="342.60" x2="305.70" y2="342.60" stroke="#111" stroke-width="1.1" stroke-linecap="butt"/>
<line x1="303.70" y1="337.66" x2="305.70" y2="337.66" stroke="#111" stroke-width="1.1" stroke-linecap="butt"/>
<line x1="303.70" y1="332.72" x2="305.70" y2="332.72" stroke="#111" stroke-width="1.1" stroke-linecap="butt"/>
<line x1="303.70" y1="327.78" x2="305.70" y2="327.78" stroke="#111" stroke-width="1.1" stroke-linecap="butt"/>
<line x1="303.70" y1="322.84" x2="305.70" y2="322.84" stroke="#111" stroke-width="1.1" stroke-linecap="butt"/>
<line x1="302.20" y1="317.90" x2="305.70" y2="317.90" stroke="#111" stroke-width="1.1" stroke-linecap="butt"/>
<line x1="303.70" y1="312.96" x2="305.70" y2="312.96" stroke="#111" stroke-width="1.1" stroke-linecap="butt"/>
<line x1="303.70" y1="308.02" x2="305.70" y2="308.02" stroke="#111" stroke-width="1.1" stroke-linecap="butt"/>
<line x1="303.70" y1="303.08" x2="305.70" y2="303.08" stroke="#111" stroke-width="1.1" stroke-linecap="butt"/>
<line x1="303.70" y1="298.14" x2="305.70" y2="298.14" stroke="#111" stroke-width="1.1" stroke-linecap="butt"/>
<line x1="302.20" y1="293.20" x2="305.70" y2="293.20" stroke="#111" stroke-width="1.1" stroke-linecap="butt"/>
<line x1="303.70" y1="288.26" x2="305.70" y2="288.26" stroke="#111" stroke-width="1.1" stroke-linecap="butt"/>
<line x1="303.70" y1="283.32" x2="305.70" y2="283.32" stroke="#111" stroke-width="1.1" stroke-linecap="butt"/>
<line x1="303.70" y1="278.38" x2="305.70" y2="278.38" stroke="#111" stroke-width="1.1" stroke-linecap="butt"/>
<line x1="303.70" y1="273.44" x2="305.70" y2="273.44" stroke="#111" stroke-width="1.1" stroke-linecap="butt"/>
<line x1="302.20" y1="268.50" x2="305.70" y2="268.50" stroke="#111" stroke-width="1.1" stroke-linecap="butt"/>
<line x1="303.70" y1="263.56" x2="305.70" y2="263.56" stroke="#111" stroke-width="1.1" stroke-linecap="butt"/>
<line x1="303.70" y1="258.62" x2="305.70" y2="258.62" stroke="#111" stroke-width="1.1" stroke-linecap="butt"/>
<line x1="303.70" y1="253.68" x2="305.70" y2="253.68" stroke="#111" stroke-width="1.1" stroke-linecap="butt"/>
<line x1="303.70" y1="248.74" x2="305.70" y2="248.74" stroke="#111" stroke-width="1.1" stroke-linecap="butt"/>
<line x1="302.20" y1="243.80" x2="305.70" y2="243.80" stroke="#111" stroke-width="1.1" stroke-linecap="butt"/>
<text x="302.2" y="370.90000000000003" font-size="10" text-anchor="end" font-weight="normal" font-style="normal" fill="#222"  textLength="5.95" lengthAdjust="spacingAndGlyphs">0</text>
<text x="302.2" y="346.3" font-size="10" text-anchor="end" font-weight="normal" font-style="normal" fill="#222"  textLength="11.90" lengthAdjust="spacingAndGlyphs">20</text>
<text x="302.2" y="321.70000000000005" font-size="10" text-anchor="end" font-weight="normal" font-style="normal" fill="#222"  textLength="11.90" lengthAdjust="spacingAndGlyphs">40</text>
<text x="302.2" y="297.1" font-size="10" text-anchor="end" font-weight="normal" font-style="normal" fill="#222"  textLength="11.90" lengthAdjust="spacingAndGlyphs">60</text>
<text x="302.2" y="272.5" font-size="10" text-anchor="end" font-weight="normal" font-style="normal" fill="#222"  textLength="11.90" lengthAdjust="spacingAndGlyphs">80</text>
<text x="302.2" y="247.9" font-size="10" text-anchor="end" font-weight="normal" font-style="normal" fill="#222"  textLength="17.85" lengthAdjust="spacingAndGlyphs">100</text>
<line x1="312.50" y1="367.30" x2="312.50" y2="370.50" stroke="#111" stroke-width="1.1" stroke-linecap="butt"/>
<line x1="321.80" y1="367.30" x2="321.80" y2="370.50" stroke="#111" stroke-width="1.1" stroke-linecap="butt"/>
<line x1="331.10" y1="367.30" x2="331.10" y2="370.50" stroke="#111" stroke-width="1.1" stroke-linecap="butt"/>
<line x1="340.40" y1="367.30" x2="340.40" y2="370.50" stroke="#111" stroke-width="1.1" stroke-linecap="butt"/>
<line x1="349.70" y1="367.30" x2="349.70" y2="370.50" stroke="#111" stroke-width="1.1" stroke-linecap="butt"/>
<line x1="359.00" y1="367.30" x2="359.00" y2="370.50" stroke="#111" stroke-width="1.1" stroke-linecap="butt"/>
<line x1="368.30" y1="367.30" x2="368.30" y2="370.50" stroke="#111" stroke-width="1.1" stroke-linecap="butt"/>
<line x1="377.60" y1="367.30" x2="377.60" y2="370.50" stroke="#111" stroke-width="1.1" stroke-linecap="butt"/>
<line x1="386.90" y1="367.30" x2="386.90" y2="370.50" stroke="#111" stroke-width="1.1" stroke-linecap="butt"/>
<line x1="396.20" y1="367.30" x2="396.20" y2="370.50" stroke="#111" stroke-width="1.1" stroke-linecap="butt"/>
<line x1="405.50" y1="367.30" x2="405.50" y2="370.50" stroke="#111" stroke-width="1.1" stroke-linecap="butt"/>
<line x1="414.80" y1="367.30" x2="414.80" y2="370.50" stroke="#111" stroke-width="1.1" stroke-linecap="butt"/>
<line x1="424.10" y1="367.30" x2="424.10" y2="370.50" stroke="#111" stroke-width="1.1" stroke-linecap="butt"/>
<line x1="433.40" y1="367.30" x2="433.40" y2="370.50" stroke="#111" stroke-width="1.1" stroke-linecap="butt"/>
<text transform="translate(281.2,304.4) rotate(-90)" font-size="14" text-anchor="middle" fill="#1a1a1a" font-weight="normal">% of Max</text>
<text x="309.2" y="388.8" font-size="13.2" text-anchor="start" font-weight="normal" font-style="normal" fill="#1a1a1a" textLength="122.5" lengthAdjust="spacingAndGlyphs">Phospho-p38MAPK</text>
<polygon points="305.7,366.5 334.1,366.5 335.5,345 336.8,322 338.2,299.4 339.5,285 340.5,270 341.6,256 342.7,245.1 345,252 347,265 349.5,281 352,295 354.5,310 357,322 359,331 360.7,338 363,347 365.9,355 369,366.5 434,366.5" fill="#d8d8d8"/>
<polyline points="305.7,366.5 334.1,366.5 335.5,345.0 336.8,322.0 338.2,299.4 339.5,285.0 340.5,270.0 341.6,256.0 342.7,245.1 345.0,252.0 347.0,265.0 349.5,281.0 352.0,295.0 354.5,310.0 357.0,322.0 359.0,331.0 360.7,338.0 363.0,347.0 365.9,355.0 369.0,366.5 434.0,366.5" fill="none" stroke="#858585" stroke-width="2.2" stroke-linejoin="round"/>
<polyline points="305.7,366.8 339.2,366.8 340.5,345.0 341.3,320.0 342.3,300.0 343.5,280.0 344.5,262.0 345.5,250.0 346.4,245.4 348.0,248.0 349.5,252.0 350.5,256.4 351.5,268.0 352.5,281.0 354.0,291.0 355.6,301.5 357.2,312.0 358.7,322.0 360.7,332.0 362.8,342.5 365.3,350.0 367.9,356.8 371.0,364.0 373.0,366.8 434.5,366.8" fill="none" stroke="#e2231a" stroke-width="2.9" stroke-linejoin="round"/>
<line x1="380.80" y1="253.80" x2="356.00" y2="256.30" stroke="#e2231a" stroke-width="2.6" stroke-linecap="butt"/>
<polygon points="351.2,256.6 357.5,252.2 358.2,260.6" fill="#e2231a"/>
<line x1="382.10" y1="336.80" x2="352.00" y2="347.50" stroke="#808080" stroke-width="2.8" stroke-linecap="butt"/>
<polygon points="347.1,349.4 352.3,343.2 355.2,351" fill="#808080"/>
<text x="384" y="257.5" font-size="10.6" text-anchor="start" font-weight="normal" font-style="normal" fill="#1a1a1a" >MFI=14</text>
<text x="377.5" y="299.6" font-size="10.8" text-anchor="start" font-weight="normal" font-style="normal" fill="#1a1a1a" >Fold =1.4</text>
<text x="384.6" y="339.6" font-size="10.6" text-anchor="start" font-weight="normal" font-style="normal" fill="#1a1a1a" >MFI=10</text>
<line x1="449.20" y1="291.00" x2="472.30" y2="291.00" stroke="#a6a6a6" stroke-width="3" stroke-linecap="butt"/>
<line x1="449.20" y1="308.80" x2="472.30" y2="308.80" stroke="#e2231a" stroke-width="3" stroke-linecap="butt"/>
<text x="480" y="295.6" font-size="13.5" text-anchor="start" font-weight="normal" font-style="normal" fill="#1a1a1a" >Mock</text>
<text x="483" y="313.5" font-size="13.5" text-anchor="start" font-weight="normal" font-style="normal" fill="#1a1a1a" >PHA</text>
<text x="-1" y="435.6" font-size="25.3" text-anchor="start" font-weight="bold" font-style="normal" fill="#111"  textLength="19.91" lengthAdjust="spacingAndGlyphs">D</text>
<rect x="25.1" y="451.1" width="8.6" height="8.6" fill="#111"/>
<rect x="27.3" y="453.3" width="4.2" height="4.2" fill="#1b8ccf"/>
<text x="36.2" y="459.5" font-size="14.3" text-anchor="start" font-weight="normal" font-style="normal" fill="#1a1a1a" >HAART</text>
<polygon points="97.5,450.59999999999997 102.1,455.2 97.5,459.8 92.9,455.2" fill="#6b3242" stroke="#1a1a1a" stroke-width="1.4" stroke-linejoin="round"/>
<circle cx="97.5" cy="455.2" r="1" fill="#a8506e"/>
<text x="102.7" y="461" font-size="14.7" text-anchor="start" font-weight="normal" font-style="normal" fill="#1a1a1a" >Prog CD4&lt;350</text>
<circle cx="210.6" cy="455.2" r="4.1" fill="#1fa24f"/>
<path d="M210.6,452.7 A2.4999999999999996,2.4999999999999996 0 0 0 210.6,457.7 Z" fill="#d8f0de"/>
<text x="218.5" y="460.2" font-size="14.5" text-anchor="start" font-weight="normal" font-style="normal" fill="#1a1a1a" >Neg</text>
<line x1="46.00" y1="473.30" x2="46.00" y2="587.20" stroke="#111" stroke-width="1.5" stroke-linecap="butt"/>
<line x1="45.30" y1="586.50" x2="224.00" y2="586.50" stroke="#111" stroke-width="1.5" stroke-linecap="butt"/>
<line x1="44.00" y1="586.50" x2="46.00" y2="586.50" stroke="#111" stroke-width="1.2" stroke-linecap="butt"/>
<line x1="44.00" y1="578.43" x2="46.00" y2="578.43" stroke="#111" stroke-width="1.2" stroke-linecap="butt"/>
<line x1="42.80" y1="570.36" x2="46.00" y2="570.36" stroke="#111" stroke-width="1.2" stroke-linecap="butt"/>
<line x1="44.00" y1="562.29" x2="46.00" y2="562.29" stroke="#111" stroke-width="1.2" stroke-linecap="butt"/>
<line x1="44.00" y1="554.22" x2="46.00" y2="554.22" stroke="#111" stroke-width="1.2" stroke-linecap="butt"/>
<line x1="44.00" y1="546.15" x2="46.00" y2="546.15" stroke="#111" stroke-width="1.2" stroke-linecap="butt"/>
<line x1="42.80" y1="538.08" x2="46.00" y2="538.08" stroke="#111" stroke-width="1.2" stroke-linecap="butt"/>
<line x1="44.00" y1="530.01" x2="46.00" y2="530.01" stroke="#111" stroke-width="1.2" stroke-linecap="butt"/>
<line x1="44.00" y1="521.94" x2="46.00" y2="521.94" stroke="#111" stroke-width="1.2" stroke-linecap="butt"/>
<line x1="44.00" y1="513.87" x2="46.00" y2="513.87" stroke="#111" stroke-width="1.2" stroke-linecap="butt"/>
<line x1="42.80" y1="505.80" x2="46.00" y2="505.80" stroke="#111" stroke-width="1.2" stroke-linecap="butt"/>
<line x1="44.00" y1="497.73" x2="46.00" y2="497.73" stroke="#111" stroke-width="1.2" stroke-linecap="butt"/>
<line x1="44.00" y1="489.66" x2="46.00" y2="489.66" stroke="#111" stroke-width="1.2" stroke-linecap="butt"/>
<line x1="44.00" y1="481.59" x2="46.00" y2="481.59" stroke="#111" stroke-width="1.2" stroke-linecap="butt"/>
<line x1="42.80" y1="473.52" x2="46.00" y2="473.52" stroke="#111" stroke-width="1.2" stroke-linecap="butt"/>
<text x="39.6" y="477.59999999999997" font-size="10.2" text-anchor="end" font-weight="normal" font-style="normal" fill="#222"  textLength="17.87" lengthAdjust="spacingAndGlyphs">500</text>
<text x="39.6" y="509.9" font-size="10.2" text-anchor="end" font-weight="normal" font-style="normal" fill="#222"  textLength="17.87" lengthAdjust="spacingAndGlyphs">400</text>
<text x="39.6" y="542.1999999999999" font-size="10.2" text-anchor="end" font-weight="normal" font-style="normal" fill="#222"  textLength="17.87" lengthAdjust="spacingAndGlyphs">300</text>
<text x="39.6" y="574.5" font-size="10.2" text-anchor="end" font-weight="normal" font-style="normal" fill="#222"  textLength="17.87" lengthAdjust="spacingAndGlyphs">200</text>
<line x1="45.80" y1="586.50" x2="45.80" y2="590.50" stroke="#111" stroke-width="1.2" stroke-linecap="butt"/>
<line x1="58.52" y1="586.50" x2="58.52" y2="588.80" stroke="#111" stroke-width="1.2" stroke-linecap="butt"/>
<line x1="71.23" y1="586.50" x2="71.23" y2="588.80" stroke="#111" stroke-width="1.2" stroke-linecap="butt"/>
<line x1="83.94" y1="586.50" x2="83.94" y2="588.80" stroke="#111" stroke-width="1.2" stroke-linecap="butt"/>
<line x1="96.66" y1="586.50" x2="96.66" y2="590.50" stroke="#111" stroke-width="1.2" stroke-linecap="butt"/>
<line x1="109.38" y1="586.50" x2="109.38" y2="588.80" stroke="#111" stroke-width="1.2" stroke-linecap="butt"/>
<line x1="122.09" y1="586.50" x2="122.09" y2="588.80" stroke="#111" stroke-width="1.2" stroke-linecap="butt"/>
<line x1="134.81" y1="586.50" x2="134.81" y2="588.80" stroke="#111" stroke-width="1.2" stroke-linecap="butt"/>
<line x1="147.52" y1="586.50" x2="147.52" y2="590.50" stroke="#111" stroke-width="1.2" stroke-linecap="butt"/>
<line x1="160.24" y1="586.50" x2="160.24" y2="588.80" stroke="#111" stroke-width="1.2" stroke-linecap="butt"/>
<line x1="172.95" y1="586.50" x2="172.95" y2="588.80" stroke="#111" stroke-width="1.2" stroke-linecap="butt"/>
<line x1="185.67" y1="586.50" x2="185.67" y2="588.80" stroke="#111" stroke-width="1.2" stroke-linecap="butt"/>
<line x1="198.38" y1="586.50" x2="198.38" y2="590.50" stroke="#111" stroke-width="1.2" stroke-linecap="butt"/>
<line x1="211.09" y1="586.50" x2="211.09" y2="588.80" stroke="#111" stroke-width="1.2" stroke-linecap="butt"/>
<line x1="223.81" y1="586.50" x2="223.81" y2="588.80" stroke="#111" stroke-width="1.2" stroke-linecap="butt"/>
<text x="45.8" y="600.7" font-size="11" text-anchor="middle" font-weight="normal" font-style="normal" fill="#222"  textLength="13.70" lengthAdjust="spacingAndGlyphs">30</text>
<text x="96.6" y="600.7" font-size="11" text-anchor="middle" font-weight="normal" font-style="normal" fill="#222"  textLength="13.70" lengthAdjust="spacingAndGlyphs">50</text>
<text x="147.5" y="600.7" font-size="11" text-anchor="middle" font-weight="normal" font-style="normal" fill="#222"  textLength="13.70" lengthAdjust="spacingAndGlyphs">70</text>
<text x="198.3" y="600.7" font-size="11" text-anchor="middle" font-weight="normal" font-style="normal" fill="#222"  textLength="13.70" lengthAdjust="spacingAndGlyphs">90</text>
<text x="100.8" y="619.2" font-size="14.6" text-anchor="start" font-weight="normal" font-style="normal" fill="#1a1a1a" >Ca<tspan font-size="9.5" dy="-5.5">2+</tspan><tspan dy="5.5"> Flux</tspan></text>
<text x="129" y="632.3" font-size="11.7" text-anchor="middle" font-weight="normal" font-style="normal" fill="#222" >(% of responding cells)</text>
<text x="72.5" y="489.3" font-size="10.8" text-anchor="start" font-weight="normal" font-style="normal" fill="#1a1a1a" ><tspan font-style="italic">P</tspan> = 0.002</text>
<text x="72.5" y="501" font-size="10.8" text-anchor="start" font-weight="normal" font-style="normal" fill="#1a1a1a" ><tspan font-style="italic">R</tspan><tspan font-size="8" dy="-3.5">2</tspan><tspan dy="3.5"> = 0.4</tspan></text>
<text transform="translate(12.3,528.5) rotate(-90)" font-size="14.5" text-anchor="middle" fill="#1a1a1a" font-weight="normal">CD8<tspan font-style="italic">α</tspan> MdFI</text>
<polygon points="51.25,567.7 56.05,572.5 51.25,577.3 46.45,572.5" fill="#62303f" stroke="#1e1216" stroke-width="1.9" stroke-linejoin="round"/>
<circle cx="51.25" cy="572.5" r="1" fill="#a8506e"/>
<polygon points="64.5,532.2 69.3,537 64.5,541.8 59.7,537" fill="#62303f" stroke="#1e1216" stroke-width="1.9" stroke-linejoin="round"/>
<circle cx="64.5" cy="537" r="1" fill="#a8506e"/>
<polygon points="77.5,529.45 82.3,534.25 77.5,539.05 72.7,534.25" fill="#62303f" stroke="#1e1216" stroke-width="1.9" stroke-linejoin="round"/>
<circle cx="77.5" cy="534.25" r="1" fill="#a8506e"/>
<polygon points="73,538.95 77.8,543.75 73,548.55 68.2,543.75" fill="#62303f" stroke="#1e1216" stroke-width="1.9" stroke-linejoin="round"/>
<circle cx="73" cy="543.75" r="1" fill="#a8506e"/>
<polygon points="80.5,568.45 85.3,573.25 80.5,578.05 75.7,573.25" fill="#62303f" stroke="#1e1216" stroke-width="1.9" stroke-linejoin="round"/>
<circle cx="80.5" cy="573.25" r="1" fill="#a8506e"/>
<polygon points="88,560.2 92.8,565 88,569.8 83.2,565" fill="#62303f" stroke="#1e1216" stroke-width="1.9" stroke-linejoin="round"/>
<circle cx="88" cy="565" r="1" fill="#a8506e"/>
<polygon points="108.25,557.7 113.05,562.5 108.25,567.3 103.45,562.5" fill="#62303f" stroke="#1e1216" stroke-width="1.9" stroke-linejoin="round"/>
<circle cx="108.25" cy="562.5" r="1" fill="#a8506e"/>
<polygon points="124.2,541.0 129.0,545.8 124.2,550.5999999999999 119.4,545.8" fill="#62303f" stroke="#1e1216" stroke-width="1.9" stroke-linejoin="round"/>
<circle cx="124.2" cy="545.8" r="1" fill="#a8506e"/>
<polygon points="134.5,525.4000000000001 139.3,530.2 134.5,535.0 129.7,530.2" fill="#62303f" stroke="#1e1216" stroke-width="1.9" stroke-linejoin="round"/>
<circle cx="134.5" cy="530.2" r="1" fill="#a8506e"/>
<polygon points="138.5,548.8000000000001 143.3,553.6 138.5,558.4 133.7,553.6" fill="#62303f" stroke="#1e1216" stroke-width="1.9" stroke-linejoin="round"/>
<circle cx="138.5" cy="553.6" r="1" fill="#a8506e"/>
<rect x="173.2" y="471.4" width="9.7" height="9.7" fill="#0a1420"/>
<rect x="175.8" y="474.0" width="4.6" height="4.6" fill="#2593c6"/>
<rect x="178.7" y="499.8" width="9.7" height="9.7" fill="#0a1420"/>
<rect x="181.2" y="502.3" width="4.6" height="4.6" fill="#2593c6"/>
<rect x="186.2" y="511.1" width="9.7" height="9.7" fill="#0a1420"/>
<rect x="188.7" y="513.7" width="4.6" height="4.6" fill="#2593c6"/>
<rect x="152.6" y="518.6" width="9.7" height="9.7" fill="#0a1420"/>
<rect x="155.1" y="521.2" width="4.6" height="4.6" fill="#2593c6"/>
<rect x="153.8" y="526.1" width="9.7" height="9.7" fill="#0a1420"/>
<rect x="156.4" y="528.7" width="4.6" height="4.6" fill="#2593c6"/>
<rect x="157.8" y="533.4" width="9.7" height="9.7" fill="#0a1420"/>
<rect x="160.4" y="536.0" width="4.6" height="4.6" fill="#2593c6"/>
<rect x="181.3" y="528.9" width="9.7" height="9.7" fill="#0a1420"/>
<rect x="183.9" y="531.4" width="4.6" height="4.6" fill="#2593c6"/>
<rect x="204.2" y="530.8" width="9.7" height="9.7" fill="#0a1420"/>
<rect x="206.7" y="533.3" width="4.6" height="4.6" fill="#2593c6"/>
<rect x="124.8" y="540.9" width="9.7" height="9.7" fill="#0a1420"/>
<rect x="127.3" y="543.5" width="4.6" height="4.6" fill="#2593c6"/>
<rect x="64.7" y="554.6" width="9.7" height="9.7" fill="#0a1420"/>
<rect x="67.2" y="557.2" width="4.6" height="4.6" fill="#2593c6"/>
<circle cx="109.4" cy="514" r="4.3" fill="#1fa24f"/>
<path d="M109.4,511.3 A2.6999999999999997,2.6999999999999997 0 0 0 109.4,516.6999999999999 Z" fill="#d8f0de"/>
<circle cx="164.6" cy="511.4" r="4.3" fill="#1fa24f"/>
<path d="M164.6,508.7 A2.6999999999999997,2.6999999999999997 0 0 0 164.6,514.0999999999999 Z" fill="#d8f0de"/>
<circle cx="152" cy="536.1" r="4.3" fill="#1fa24f"/>
<path d="M152,533.4000000000001 A2.6999999999999997,2.6999999999999997 0 0 0 152,538.8 Z" fill="#d8f0de"/>
<circle cx="149.3" cy="545.5" r="4.3" fill="#1fa24f"/>
<path d="M149.3,542.8000000000001 A2.6999999999999997,2.6999999999999997 0 0 0 149.3,548.1999999999999 Z" fill="#d8f0de"/>
<line x1="45.75" y1="562.30" x2="223.90" y2="509.20" stroke="#111" stroke-width="2.6" stroke-linecap="butt"/>
<text x="281.8" y="435.8" font-size="25.3" text-anchor="start" font-weight="bold" font-style="normal" fill="#111"  textLength="18.56" lengthAdjust="spacingAndGlyphs">E</text>
<rect x="327.6" y="451.3" width="8.6" height="8.6" fill="#111"/>
<rect x="329.8" y="453.5" width="4.2" height="4.2" fill="#1b8ccf"/>
<text x="341" y="460" font-size="14.3" text-anchor="start" font-weight="normal" font-style="normal" fill="#1a1a1a" >HAART</text>
<polygon points="408.5,450.59999999999997 413.1,455.2 408.5,459.8 403.9,455.2" fill="#6b3242" stroke="#1a1a1a" stroke-width="1.4" stroke-linejoin="round"/>
<circle cx="408.5" cy="455.2" r="1" fill="#a8506e"/>
<text x="418.8" y="460.2" font-size="14.7" text-anchor="start" font-weight="normal" font-style="normal" fill="#1a1a1a" >Prog CD4&lt;350</text>
<line x1="329.00" y1="481.00" x2="329.00" y2="587.00" stroke="#111" stroke-width="1.5" stroke-linecap="butt"/>
<line x1="328.30" y1="586.30" x2="508.50" y2="586.30" stroke="#111" stroke-width="1.5" stroke-linecap="butt"/>
<line x1="327.00" y1="586.30" x2="329.00" y2="586.30" stroke="#111" stroke-width="1.2" stroke-linecap="butt"/>
<line x1="327.00" y1="578.95" x2="329.00" y2="578.95" stroke="#111" stroke-width="1.2" stroke-linecap="butt"/>
<line x1="325.80" y1="571.60" x2="329.00" y2="571.60" stroke="#111" stroke-width="1.2" stroke-linecap="butt"/>
<line x1="327.00" y1="564.25" x2="329.00" y2="564.25" stroke="#111" stroke-width="1.2" stroke-linecap="butt"/>
<line x1="327.00" y1="556.90" x2="329.00" y2="556.90" stroke="#111" stroke-width="1.2" stroke-linecap="butt"/>
<line x1="327.00" y1="549.55" x2="329.00" y2="549.55" stroke="#111" stroke-width="1.2" stroke-linecap="butt"/>
<line x1="325.80" y1="542.20" x2="329.00" y2="542.20" stroke="#111" stroke-width="1.2" stroke-linecap="butt"/>
<line x1="327.00" y1="534.85" x2="329.00" y2="534.85" stroke="#111" stroke-width="1.2" stroke-linecap="butt"/>
<line x1="327.00" y1="527.50" x2="329.00" y2="527.50" stroke="#111" stroke-width="1.2" stroke-linecap="butt"/>
<line x1="327.00" y1="520.15" x2="329.00" y2="520.15" stroke="#111" stroke-width="1.2" stroke-linecap="butt"/>
<line x1="325.80" y1="512.80" x2="329.00" y2="512.80" stroke="#111" stroke-width="1.2" stroke-linecap="butt"/>
<line x1="327.00" y1="505.45" x2="329.00" y2="505.45" stroke="#111" stroke-width="1.2" stroke-linecap="butt"/>
<line x1="327.00" y1="498.10" x2="329.00" y2="498.10" stroke="#111" stroke-width="1.2" stroke-linecap="butt"/>
<line x1="327.00" y1="490.75" x2="329.00" y2="490.75" stroke="#111" stroke-width="1.2" stroke-linecap="butt"/>
<line x1="325.80" y1="483.40" x2="329.00" y2="483.40" stroke="#111" stroke-width="1.2" stroke-linecap="butt"/>
<text x="323.6" y="486.6" font-size="10.5" text-anchor="end" font-weight="normal" font-style="normal" fill="#222"  textLength="19.62" lengthAdjust="spacingAndGlyphs">500</text>
<text x="323.6" y="516.0" font-size="10.5" text-anchor="end" font-weight="normal" font-style="normal" fill="#222"  textLength="19.62" lengthAdjust="spacingAndGlyphs">400</text>
<text x="323.6" y="545.4" font-size="10.5" text-anchor="end" font-weight="normal" font-style="normal" fill="#222"  textLength="19.62" lengthAdjust="spacingAndGlyphs">300</text>
<text x="323.6" y="574.8000000000001" font-size="10.5" text-anchor="end" font-weight="normal" font-style="normal" fill="#222"  textLength="19.62" lengthAdjust="spacingAndGlyphs">200</text>
<line x1="329.50" y1="586.30" x2="329.50" y2="589.80" stroke="#111" stroke-width="1.2" stroke-linecap="butt"/>
<line x1="340.75" y1="586.30" x2="340.75" y2="588.80" stroke="#111" stroke-width="1.2" stroke-linecap="butt"/>
<line x1="352.00" y1="586.30" x2="352.00" y2="588.80" stroke="#111" stroke-width="1.2" stroke-linecap="butt"/>
<line x1="363.25" y1="586.30" x2="363.25" y2="588.80" stroke="#111" stroke-width="1.2" stroke-linecap="butt"/>
<line x1="374.50" y1="586.30" x2="374.50" y2="589.80" stroke="#111" stroke-width="1.2" stroke-linecap="butt"/>
<line x1="385.75" y1="586.30" x2="385.75" y2="588.80" stroke="#111" stroke-width="1.2" stroke-linecap="butt"/>
<line x1="397.00" y1="586.30" x2="397.00" y2="588.80" stroke="#111" stroke-width="1.2" stroke-linecap="butt"/>
<line x1="408.25" y1="586.30" x2="408.25" y2="588.80" stroke="#111" stroke-width="1.2" stroke-linecap="butt"/>
<line x1="419.50" y1="586.30" x2="419.50" y2="589.80" stroke="#111" stroke-width="1.2" stroke-linecap="butt"/>
<line x1="430.75" y1="586.30" x2="430.75" y2="588.80" stroke="#111" stroke-width="1.2" stroke-linecap="butt"/>
<line x1="442.00" y1="586.30" x2="442.00" y2="588.80" stroke="#111" stroke-width="1.2" stroke-linecap="butt"/>
<line x1="453.25" y1="586.30" x2="453.25" y2="588.80" stroke="#111" stroke-width="1.2" stroke-linecap="butt"/>
<line x1="464.50" y1="586.30" x2="464.50" y2="589.80" stroke="#111" stroke-width="1.2" stroke-linecap="butt"/>
<line x1="475.75" y1="586.30" x2="475.75" y2="588.80" stroke="#111" stroke-width="1.2" stroke-linecap="butt"/>
<line x1="487.00" y1="586.30" x2="487.00" y2="588.80" stroke="#111" stroke-width="1.2" stroke-linecap="butt"/>
<line x1="498.25" y1="586.30" x2="498.25" y2="588.80" stroke="#111" stroke-width="1.2" stroke-linecap="butt"/>
<line x1="509.50" y1="586.30" x2="509.50" y2="589.80" stroke="#111" stroke-width="1.2" stroke-linecap="butt"/>
<text x="329.5" y="600.6" font-size="10.8" text-anchor="middle" font-weight="normal" font-style="normal" fill="#222"  textLength="10.36" lengthAdjust="spacingAndGlyphs">.6</text>
<text x="374.5" y="600.6" font-size="10.8" text-anchor="middle" font-weight="normal" font-style="normal" fill="#222"  textLength="6.91" lengthAdjust="spacingAndGlyphs">1</text>
<text x="419.5" y="600.6" font-size="10.8" text-anchor="middle" font-weight="normal" font-style="normal" fill="#222"  textLength="17.26" lengthAdjust="spacingAndGlyphs">1.4</text>
<text x="464.5" y="600.6" font-size="10.8" text-anchor="middle" font-weight="normal" font-style="normal" fill="#222"  textLength="17.26" lengthAdjust="spacingAndGlyphs">1.8</text>
<text x="509.5" y="600.6" font-size="10.8" text-anchor="middle" font-weight="normal" font-style="normal" fill="#222"  textLength="17.26" lengthAdjust="spacingAndGlyphs">2.2</text>
<text x="384.6" y="616.5" font-size="14" text-anchor="start" font-weight="normal" font-style="normal" fill="#1a1a1a" >p38MAPK</text>
<text x="417" y="630" font-size="11.7" text-anchor="middle" font-weight="normal" font-style="normal" fill="#222" >(Fold induction)</text>
<text x="358.7" y="494.2" font-size="10.8" text-anchor="start" font-weight="normal" font-style="normal" fill="#1a1a1a" ><tspan font-style="italic">P</tspan> = 0.03</text>
<text x="358.7" y="505.6" font-size="10.8" text-anchor="start" font-weight="normal" font-style="normal" fill="#1a1a1a" ><tspan font-style="italic">R</tspan><tspan font-size="8" dy="-3.5">2</tspan><tspan dy="3.5"> = 0.2</tspan></text>
<text transform="translate(295,527) rotate(-90)" font-size="14.3" text-anchor="middle" fill="#1a1a1a" font-weight="normal">CD8<tspan font-style="italic">α</tspan> MdFI</text>
<polygon points="335.75,535.7 340.55,540.5 335.75,545.3 330.95,540.5" fill="#62303f" stroke="#1e1216" stroke-width="1.9" stroke-linejoin="round"/>
<circle cx="335.75" cy="540.5" r="1" fill="#a8506e"/>
<polygon points="385.75,541.95 390.55,546.75 385.75,551.55 380.95,546.75" fill="#62303f" stroke="#1e1216" stroke-width="1.9" stroke-linejoin="round"/>
<circle cx="385.75" cy="546.75" r="1" fill="#a8506e"/>
<polygon points="369.5,561.45 374.3,566.25 369.5,571.05 364.7,566.25" fill="#62303f" stroke="#1e1216" stroke-width="1.9" stroke-linejoin="round"/>
<circle cx="369.5" cy="566.25" r="1" fill="#a8506e"/>
<polygon points="374.5,569.45 379.3,574.25 374.5,579.05 369.7,574.25" fill="#62303f" stroke="#1e1216" stroke-width="1.9" stroke-linejoin="round"/>
<circle cx="374.5" cy="574.25" r="1" fill="#a8506e"/>
<polygon points="439.2,528.8000000000001 444.0,533.6 439.2,538.4 434.4,533.6" fill="#62303f" stroke="#1e1216" stroke-width="1.9" stroke-linejoin="round"/>
<circle cx="439.2" cy="533.6" r="1" fill="#a8506e"/>
<polygon points="442.1,534.5 446.90000000000003,539.3 442.1,544.0999999999999 437.3,539.3" fill="#62303f" stroke="#1e1216" stroke-width="1.9" stroke-linejoin="round"/>
<circle cx="442.1" cy="539.3" r="1" fill="#a8506e"/>
<polygon points="447.9,544.6 452.7,549.4 447.9,554.1999999999999 443.09999999999997,549.4" fill="#62303f" stroke="#1e1216" stroke-width="1.9" stroke-linejoin="round"/>
<circle cx="447.9" cy="549.4" r="1" fill="#a8506e"/>
<polygon points="482.5,550.4000000000001 487.3,555.2 482.5,560.0 477.7,555.2" fill="#62303f" stroke="#1e1216" stroke-width="1.9" stroke-linejoin="round"/>
<circle cx="482.5" cy="555.2" r="1" fill="#a8506e"/>
<polygon points="422.8,559.0 427.6,563.8 422.8,568.5999999999999 418.0,563.8" fill="#62303f" stroke="#1e1216" stroke-width="1.9" stroke-linejoin="round"/>
<circle cx="422.8" cy="563.8" r="1" fill="#a8506e"/>
<polygon points="442.1,569.1 446.90000000000003,573.9 442.1,578.6999999999999 437.3,573.9" fill="#62303f" stroke="#1e1216" stroke-width="1.9" stroke-linejoin="round"/>
<circle cx="442.1" cy="573.9" r="1" fill="#a8506e"/>
<rect x="489.1" y="480.5" width="9.7" height="9.7" fill="#0a1420"/>
<rect x="491.7" y="483.1" width="4.6" height="4.6" fill="#2593c6"/>
<rect x="467.5" y="507.0" width="9.7" height="9.7" fill="#0a1420"/>
<rect x="470.1" y="509.6" width="4.6" height="4.6" fill="#2593c6"/>
<rect x="417.9" y="517.1" width="9.7" height="9.7" fill="#0a1420"/>
<rect x="420.5" y="519.7" width="4.6" height="4.6" fill="#2593c6"/>
<rect x="426.2" y="524.4" width="9.7" height="9.7" fill="#0a1420"/>
<rect x="428.8" y="526.9" width="4.6" height="4.6" fill="#2593c6"/>
<rect x="422.2" y="530.8" width="9.7" height="9.7" fill="#0a1420"/>
<rect x="424.8" y="533.3" width="4.6" height="4.6" fill="#2593c6"/>
<rect x="423.8" y="537.4" width="9.7" height="9.7" fill="#0a1420"/>
<rect x="426.3" y="539.9" width="4.6" height="4.6" fill="#2593c6"/>
<rect x="400.6" y="536.4" width="9.7" height="9.7" fill="#0a1420"/>
<rect x="403.2" y="539.0" width="4.6" height="4.6" fill="#2593c6"/>
<rect x="399.1" y="545.4" width="9.7" height="9.7" fill="#0a1420"/>
<rect x="401.7" y="548.0" width="4.6" height="4.6" fill="#2593c6"/>
<rect x="492.0" y="531.5" width="9.7" height="9.7" fill="#0a1420"/>
<rect x="494.6" y="534.1" width="4.6" height="4.6" fill="#2593c6"/>
<rect x="372.9" y="556.1" width="9.7" height="9.7" fill="#0a1420"/>
<rect x="375.5" y="558.7" width="4.6" height="4.6" fill="#2593c6"/>
<line x1="329.25" y1="565.00" x2="509.30" y2="522.90" stroke="#111" stroke-width="4.4" stroke-linecap="butt"/>
</svg>
</body></html>
